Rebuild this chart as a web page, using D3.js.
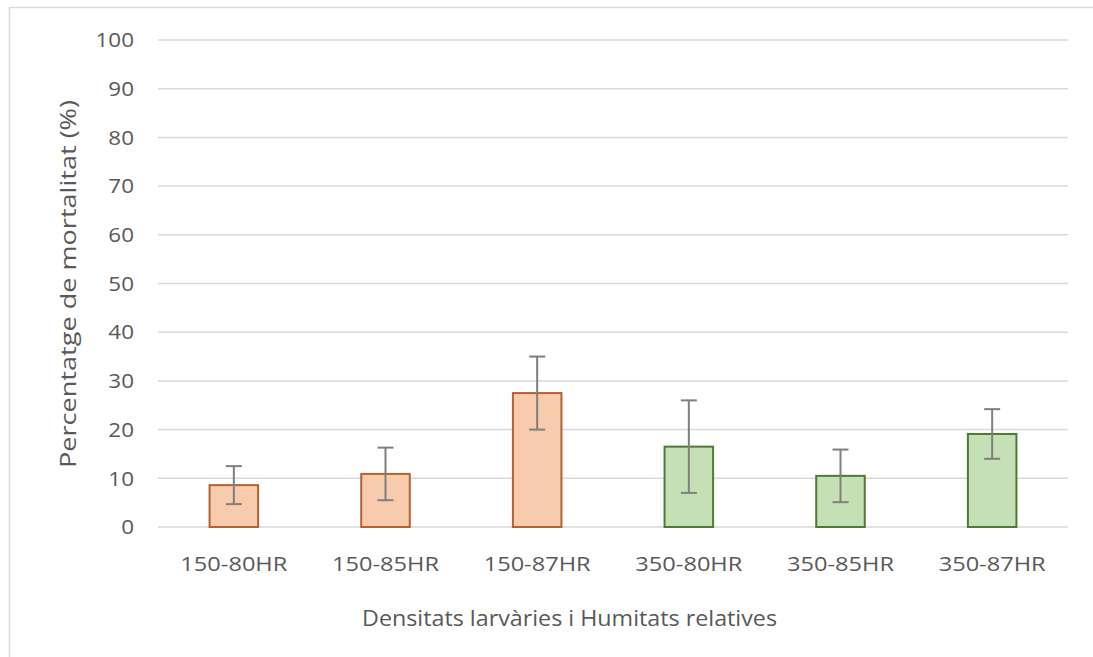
<!DOCTYPE html>
<html>
<head>
<meta charset="utf-8">
<script src="https://cdn.jsdelivr.net/npm/d3@7"></script>
<style>
  body { margin: 0; background: #fff; }
  text { font-family: "Open Sans", sans-serif; fill: #595959; }
</style>
</head>
<body>
<div id="chart"></div>
<script>
// Data
const categories = ["150-80HR", "150-85HR", "150-87HR", "350-80HR", "350-85HR", "350-87HR"];
const mortality = [8.6, 10.9, 27.5, 16.5, 10.5, 19.1];
const errors = [3.9, 5.4, 7.5, 9.5, 5.4, 5.1];
const groups = ["150", "150", "150", "350", "350", "350"];
const yTicks = [0, 10, 20, 30, 40, 50, 60, 70, 80, 90, 100];

const width = 1093, height = 657;
const margin = { top: 40, right: 25, bottom: 130, left: 158 };

const svg = d3.select("#chart").append("svg")
  .attr("width", width)
  .attr("height", height);

// stretch text a little, the source font is wider than Open Sans
function stretch(sel, factor) {
  sel.each(function() {
    const w = this.getComputedTextLength();
    d3.select(this).attr("textLength", w * factor).attr("lengthAdjust", "spacingAndGlyphs");
  });
}

// chart frame (cut off at right and bottom)
svg.append("rect")
  .attr("x", 9.5).attr("y", 7.5)
  .attr("width", width).attr("height", height)
  .attr("fill", "none")
  .attr("stroke", "#d9d9d9")
  .attr("stroke-width", 1.5);

const x = d3.scaleBand()
  .domain(categories)
  .range([margin.left, 1068])
  .paddingInner(0.68)
  .paddingOuter(0.34);

const y = d3.scaleLinear()
  .domain([0, 100])
  .range([527, 40]);

// Gridlines
svg.append("g")
  .selectAll("line")
  .data(yTicks)
  .join("line")
    .attr("x1", margin.left).attr("x2", 1068)
    .attr("y1", d => y(d)).attr("y2", d => y(d))
    .attr("stroke", "#d9d9d9")
    .attr("stroke-width", 1.5);

// Y tick labels
svg.append("g")
  .selectAll("text")
  .data(yTicks)
  .join("text")
    .attr("x", 134)
    .attr("y", d => y(d))
    .attr("dy", "0.36em")
    .attr("text-anchor", "end")
    .style("font-size", "20px")
    .text(d => d)
    .call(stretch, 1.12);

const fill = { "150": "#f8cbad", "350": "#c5e0b4" };
const stroke = { "150": "#b4622e", "350": "#4f7a34" };

// Bars
svg.append("g")
  .selectAll("rect")
  .data(categories)
  .join("rect")
    .attr("x", d => x(d))
    .attr("y", (d, i) => y(mortality[i]))
    .attr("width", x.bandwidth())
    .attr("height", (d, i) => y(0) - y(mortality[i]))
    .attr("fill", (d, i) => fill[groups[i]])
    .attr("stroke", (d, i) => stroke[groups[i]])
    .attr("stroke-width", 2);

// Error bars
const err = svg.append("g")
  .attr("stroke", "#7f7f7f")
  .attr("stroke-width", 2)
  .selectAll("g")
  .data(categories)
  .join("g")
    .attr("transform", d => `translate(${x(d) + x.bandwidth() / 2},0)`);

err.append("line")
  .attr("y1", (d, i) => y(mortality[i] + errors[i]))
  .attr("y2", (d, i) => y(mortality[i] - errors[i]));
err.append("line")
  .attr("x1", -8).attr("x2", 8)
  .attr("y1", (d, i) => y(mortality[i] + errors[i]))
  .attr("y2", (d, i) => y(mortality[i] + errors[i]));
err.append("line")
  .attr("x1", -8).attr("x2", 8)
  .attr("y1", (d, i) => y(mortality[i] - errors[i]))
  .attr("y2", (d, i) => y(mortality[i] - errors[i]));

// X labels
svg.append("g")
  .selectAll("text")
  .data(categories)
  .join("text")
    .attr("x", d => x(d) + x.bandwidth() / 2)
    .attr("y", 564)
    .attr("dy", "0.36em")
    .attr("text-anchor", "middle")
    .style("font-size", "20px")
    .text(d => d)
    .attr("textLength", 107)
    .attr("lengthAdjust", "spacingAndGlyphs");

// Axis titles
svg.append("text")
  .attr("x", (362 + 777) / 2)
  .attr("y", 618)
  .attr("dy", "0.36em")
  .attr("text-anchor", "middle")
  .style("font-size", "22px")
  .attr("textLength", 415)
  .attr("lengthAdjust", "spacingAndGlyphs")
  .text("Densitats larvàries i Humitats relatives");

svg.append("text")
  .attr("transform", "translate(68,284) rotate(-90)")
  .attr("dy", "0.36em")
  .attr("text-anchor", "middle")
  .style("font-size", "22px")
  .attr("textLength", 368)
  .attr("lengthAdjust", "spacingAndGlyphs")
  .text("Percentatge de mortalitat (%)");
</script>
</body>
</html>
